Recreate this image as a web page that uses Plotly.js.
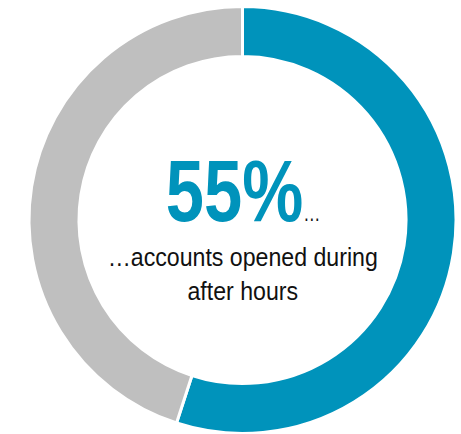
<!DOCTYPE html>
<html>
<head>
<meta charset="utf-8">
<script src="https://cdn.plot.ly/plotly-3.0.1.min.js"></script>
<style>
  html, body { margin: 0; padding: 0; background: #ffffff; }
  #chart { width: 461px; height: 434px; }
</style>
</head>
<body>
<div id="chart"></div>
<script>
// Share of accounts opened during / outside after hours
const categories = ["After hours", "Business hours"];
const shares = [55, 45];
const sliceColors = ["#0093BB", "#BFBFBF"];
const headline = "55%";
const captionLines = ["\u2026accounts opened during", "after hours"];

const W = 461, H = 434;
const sans = "'Liberation Sans Narrow', 'Arial Narrow', 'Liberation Sans', Arial, sans-serif";

const trace = {
  type: "pie",
  labels: categories,
  values: shares,
  hole: 0.766,
  sort: false,
  direction: "clockwise",
  rotation: 0,
  textinfo: "none",
  hoverinfo: "label+percent",
  marker: { colors: sliceColors, line: { color: "#ffffff", width: 3 } },
  domain: { x: [29 / W, 456 / W], y: [0.5 / H, 427.5 / H] },
  showlegend: false
};

const layout = {
  width: W,
  height: H,
  margin: { l: 0, r: 0, t: 0, b: 0, pad: 0 },
  paper_bgcolor: "#ffffff",
  plot_bgcolor: "#ffffff",
  showlegend: false,
  annotations: [
    {
      xref: "paper", yref: "paper",
      x: 243 / W, y: (H - 190) / H,
      xanchor: "center", yanchor: "middle",
      showarrow: false,
      text: "<b>" + headline + "</b><span style='font-size:22px;color:#111111'>\u2026</span>",
      font: { family: sans, size: 88, color: "#0093BB" }
    },
    {
      xref: "paper", yref: "paper",
      x: 243 / W, y: (H - 274) / H,
      xanchor: "center", yanchor: "middle",
      showarrow: false,
      align: "center",
      text: captionLines.join("<br>"),
      font: { family: sans, size: 26, color: "#111111" }
    }
  ]
};

// Horizontal condensing of the centre labels (narrow type style)
const condense = [0.78, 0.89];

Plotly.newPlot("chart", [trace], layout, { displayModeBar: false, staticPlot: true }).then(function (gd) {
  const texts = gd.querySelectorAll(".annotation-text");
  texts.forEach(function (t, i) {
    const s = condense[i] || 1;
    const bb = t.getBBox();
    const cx = bb.x + bb.width / 2;
    t.setAttribute("transform", "translate(" + cx + ",0) scale(" + s + ",1) translate(" + (-cx) + ",0)");
  });
});
</script>
</body>
</html>
